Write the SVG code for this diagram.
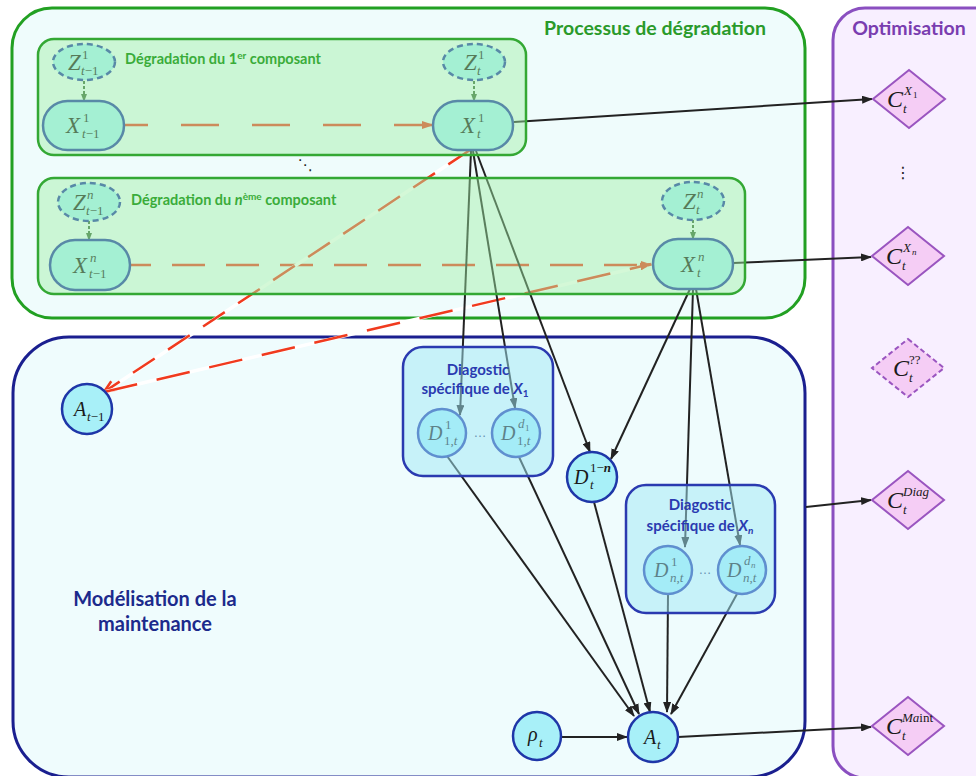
<svg xmlns="http://www.w3.org/2000/svg" width="976" height="776" viewBox="0 0 976 776">
<defs>
<style>
.cg{fill:#effcfc;stroke:#22a022;stroke-width:3}
.cb{fill:#effcfd;stroke:#1a1f8f;stroke-width:3}
.cp{fill:#f8efff;stroke:#8a4fc0;stroke-width:3}
.gbox{fill:#a0f0a6;fill-opacity:.45;stroke:#34a834;stroke-width:2.5}
.dbox{fill:#a0e8f5;fill-opacity:.5;stroke:#2a3ab0;stroke-width:2.5}
.node{fill:#a8f0f8;stroke:#1e36a8;stroke-width:2.5}
.zn{fill:#a8f0f8;stroke:#1e36a8;stroke-width:2.5;stroke-dasharray:6 4}
.dia{fill:#f5cdf5;stroke:#9a55c0;stroke-width:2}
.m{font-family:"Liberation Serif",serif;font-style:italic;fill:#1a1a1a}
.b20{font-size:23px}
.b19{font-size:20px}
.b23{font-size:24px}
.s{font-size:13px}
.ss{font-size:9px}
.up{font-style:normal}
.k{stroke:#222;stroke-width:2;fill:none}
.red{stroke:#f03a1e;stroke-width:2.5;fill:none}
.wh{stroke:#fff;stroke-width:3.5;fill:none}
.zd{stroke:#3a6a3a;stroke-width:2;stroke-dasharray:3 2}
.t{font-family:Lato,"Liberation Sans",sans-serif;font-weight:bold}
.dots{font-family:"DejaVu Sans",sans-serif;fill:#222}
</style>
<marker id="ak" markerUnits="userSpaceOnUse" markerWidth="11" markerHeight="8" refX="10" refY="4" orient="auto"><path d="M0,0 L11,4 L0,8 z" fill="#222"/></marker>
<marker id="az" markerUnits="userSpaceOnUse" markerWidth="8" markerHeight="6" refX="7" refY="3" orient="auto"><path d="M0,0 L8,3 L0,6 z" fill="#3a6a3a"/></marker>
<marker id="ar" markerUnits="userSpaceOnUse" markerWidth="12" markerHeight="8" refX="11" refY="4" orient="auto"><path d="M0,0 L12,4 L0,8 z" fill="#f03a1e"/></marker>
<marker id="aro" markerUnits="userSpaceOnUse" markerWidth="14" markerHeight="12" refX="13" refY="6" orient="auto"><path d="M1,1 L13,6 L1,11" fill="none" stroke="#f03a1e" stroke-width="2.5"/></marker>
</defs>

<g id="containers">
<rect id="processus" class="cg" x="12" y="8" width="793" height="310" rx="40"/>
<rect id="modelisation" class="cb" x="13" y="337" width="792" height="440" rx="56"/>
<rect id="optimisation" class="cp" x="833" y="8" width="200" height="770" rx="32"/>
<text class="t" x="655" y="35" font-size="19.5" fill="#2a9a2a" text-anchor="middle">Processus de dégradation</text>
<text class="t" x="909" y="35" font-size="19.5" fill="#7a3db0" text-anchor="middle">Optimisation</text>
<text class="t" x="155" y="606" font-size="20" fill="#1c2a8c" text-anchor="middle">Modélisation de la</text>
<text class="t" x="155" y="631" font-size="20" fill="#1c2a8c" text-anchor="middle">maintenance</text>
<text class="dots" x="305" y="170" font-size="15" text-anchor="middle">⋱</text>
<text class="dots" x="903" y="178" font-size="16" text-anchor="middle">⋮</text>
</g>

<g id="connectors">
<line class="zd" x1="84" y1="81" x2="84" y2="101" marker-end="url(#az)"/>
<line class="zd" x1="474" y1="81" x2="474" y2="101" marker-end="url(#az)"/>
<line class="zd" x1="89" y1="221" x2="89" y2="240" marker-end="url(#az)"/>
<line class="zd" x1="693" y1="220" x2="693" y2="239" marker-end="url(#az)"/>
<line class="red" x1="124" y1="125" x2="433" y2="125" stroke-dasharray="38 33" stroke-dashoffset="14" marker-end="url(#ar)"/>
<line class="red" x1="130" y1="265" x2="652" y2="265" stroke-dasharray="33 21" stroke-dashoffset="12" marker-end="url(#ar)"/>
<line class="wh" x1="470" y1="150" x2="106" y2="391"/>
<line class="red" x1="470" y1="150" x2="104" y2="392" stroke-dasharray="26 16" marker-end="url(#aro)"/>
<line class="wh" x1="104" y1="392" x2="648" y2="265"/>
<line class="red" x1="104" y1="392" x2="651" y2="264" stroke-dasharray="34 20" marker-end="url(#ar)"/>
<line class="k" x1="514" y1="122" x2="872" y2="99" marker-end="url(#ak)"/>
<line class="k" x1="733" y1="263" x2="871" y2="257" marker-end="url(#ak)"/>
<line class="k" x1="806" y1="507" x2="871" y2="500" marker-end="url(#ak)"/>
<line class="k" x1="678" y1="737" x2="871" y2="727" marker-end="url(#ak)"/>
<line class="k" x1="561" y1="737" x2="627" y2="737" marker-end="url(#ak)"/>
<line class="k" x1="471" y1="151" x2="460" y2="415" marker-end="url(#ak)"/>
<line class="k" x1="473" y1="151" x2="515" y2="408" marker-end="url(#ak)"/>
<line class="k" x1="476" y1="151" x2="590" y2="452" marker-end="url(#ak)"/>
<line class="k" x1="690" y1="289" x2="611" y2="459" marker-end="url(#ak)"/>
<line class="k" x1="693" y1="289" x2="685" y2="547" marker-end="url(#ak)"/>
<line class="k" x1="696" y1="289" x2="740" y2="545" marker-end="url(#ak)"/>
<line class="k" x1="447" y1="456" x2="634" y2="716" marker-end="url(#ak)"/>
<line class="k" x1="519" y1="457" x2="639" y2="714" marker-end="url(#ak)"/>
<line class="k" x1="594" y1="502" x2="650" y2="712" marker-end="url(#ak)"/>
<line class="k" x1="668" y1="595" x2="667" y2="712" marker-end="url(#ak)"/>
<line class="k" x1="737" y1="594" x2="671" y2="714" marker-end="url(#ak)"/>
</g>

<g id="Z1tm1"><ellipse class="zn" cx="84" cy="62" rx="31" ry="18"/>
<text class="m b20" x="68" y="70">Z</text><text class="m s up" x="82" y="59">1</text><text class="m s" x="81" y="75">t<tspan class="up">−1</tspan></text></g>
<g id="X1tm1"><rect class="node" x="43" y="101" width="81" height="49" rx="24.5"/>
<text class="m b20" x="66" y="133">X</text><text class="m s up" x="83" y="122">1</text><text class="m s" x="82" y="138">t<tspan class="up">−1</tspan></text></g>
<g id="Z1t"><ellipse class="zn" cx="474" cy="62" rx="31" ry="18"/>
<text class="m b20" x="464" y="70">Z</text><text class="m s up" x="478" y="59">1</text><text class="m s" x="477" y="75">t</text></g>
<g id="X1t"><rect class="node" x="433" y="101" width="80" height="49" rx="24.5"/>
<text class="m b20" x="461" y="133">X</text><text class="m s up" x="478" y="122">1</text><text class="m s" x="477" y="138">t</text></g>
<g id="Zntm1"><ellipse class="zn" cx="89" cy="202" rx="31" ry="19"/>
<text class="m b20" x="73" y="210">Z</text><text class="m s" x="87" y="199">n</text><text class="m s" x="86" y="215">t<tspan class="up">−1</tspan></text></g>
<g id="Xntm1"><rect class="node" x="50" y="240" width="80" height="50" rx="25"/>
<text class="m b20" x="73" y="273">X</text><text class="m s" x="90" y="262">n</text><text class="m s" x="89" y="278">t<tspan class="up">−1</tspan></text></g>
<g id="Znt"><ellipse class="zn" cx="693" cy="201" rx="31" ry="19"/>
<text class="m b20" x="683" y="209">Z</text><text class="m s" x="697" y="198">n</text><text class="m s" x="696" y="214">t</text></g>
<g id="Xnt"><rect class="node" x="653" y="239" width="80" height="50" rx="25"/>
<text class="m b20" x="681" y="272">X</text><text class="m s" x="698" y="261">n</text><text class="m s" x="697" y="277">t</text></g>

<g id="Atm1"><circle class="node" cx="87" cy="409" r="25"/>
<text class="m b19" x="74" y="416">A</text><text class="m s" x="87" y="421">t<tspan class="up">−1</tspan></text></g>
<g id="D11t"><circle class="node" cx="442" cy="433" r="24"/>
<text class="m b19" x="428" y="440">D</text><text class="m s up" x="445" y="429">1</text><text class="m s" x="444" y="445"><tspan class="up">1,</tspan>t</text></g>
<g id="Dd11t"><circle class="node" cx="516" cy="433" r="24"/>
<text class="m b19" x="501" y="440">D</text><text class="m s" x="518" y="428">d</text><text class="m ss up" x="525" y="431">1</text><text class="m s" x="517" y="445"><tspan class="up">1,</tspan>t</text></g>
<text x="480" y="437" font-family="Liberation Sans,sans-serif" font-size="13" fill="#2a3a6a" text-anchor="middle">…</text>
<g id="D1nt"><circle class="node" cx="592" cy="477" r="25"/>
<text class="m b19" x="574" y="484">D</text><text class="m s" x="590" y="472"><tspan class="up">1−</tspan><tspan font-weight="bold">n</tspan></text><text class="m s" x="590" y="489">t</text></g>
<g id="D1nt2"><circle class="node" cx="668" cy="570" r="24"/>
<text class="m b19" x="654" y="577">D</text><text class="m s up" x="671" y="566">1</text><text class="m s" x="670" y="582">n<tspan class="up">,</tspan>t</text></g>
<g id="Ddnnt"><circle class="node" cx="742" cy="570" r="24"/>
<text class="m b19" x="727" y="577">D</text><text class="m s" x="744" y="565">d</text><text class="m ss" x="751" y="568">n</text><text class="m s" x="743" y="582">n<tspan class="up">,</tspan>t</text></g>
<text x="705" y="574" font-family="Liberation Sans,sans-serif" font-size="13" fill="#2a3a6a" text-anchor="middle">…</text>
<g id="rhot"><circle class="node" cx="537" cy="736" r="24"/>
<text class="m b19" x="528" y="741">ρ</text><text class="m s" x="539" y="747">t</text></g>
<g id="At"><circle class="node" cx="653" cy="737" r="25"/>
<text class="m b19" x="644" y="744">A</text><text class="m s" x="657" y="749">t</text></g>

<g id="CX1"><polygon class="dia" points="909,70 945,99 909,128 873,99"/>
<text class="m b23" x="887" y="107">C</text><text class="m s" x="904" y="95">X</text><text class="m ss up" x="913" y="98">1</text><text class="m s" x="903" y="113">t</text></g>
<g id="CXn"><polygon class="dia" points="908,227 944,256 908,285 872,256"/>
<text class="m b23" x="886" y="264">C</text><text class="m s" x="903" y="252">X</text><text class="m ss" x="912" y="255">n</text><text class="m s" x="902" y="270">t</text></g>
<g id="Cqq"><polygon class="dia" points="908,339 944,368 908,397 872,368" stroke-dasharray="5 3"/>
<text class="m b23" x="893" y="376">C</text><text class="m s up" x="909" y="364">??</text><text class="m s" x="909" y="382">t</text></g>
<g id="CDiag"><polygon class="dia" points="908,471 944,500 908,529 872,500"/>
<text class="m b23" x="887" y="508">C</text><text class="m s" x="903" y="496">Diag</text><text class="m s" x="903" y="514">t</text></g>
<g id="CMaint"><polygon class="dia" points="908,697 944,726 908,755 872,726"/>
<text class="m b23" x="886" y="734">C</text><text class="m s" x="902" y="722">Ma<tspan class="up">int</tspan></text><text class="m s" x="902" y="740">t</text></g>

<g id="box1"><rect class="gbox" x="38" y="39" width="488" height="116" rx="16"/>
<text class="t" x="125" y="64" font-size="14.5" fill="#3aac3a">Dégradation du 1<tspan font-size="10" dy="-5">er</tspan><tspan dy="5"> composant</tspan></text></g>
<g id="box2"><rect class="gbox" x="38" y="178" width="707" height="116" rx="16"/>
<text class="t" x="131" y="205" font-size="14.5" fill="#3aac3a">Dégradation du <tspan font-style="italic">n</tspan><tspan font-size="10" dy="-5">ème</tspan><tspan dy="5"> composant</tspan></text></g>
<g id="diag1"><rect class="dbox" x="403" y="347" width="150" height="129" rx="20"/>
<text class="t" x="478" y="375" font-size="15" fill="#2a3ab0" text-anchor="middle">Diagostic</text>
<text class="t" x="475" y="394" font-size="15" fill="#2a3ab0" text-anchor="middle">spécifique de <tspan font-style="italic">X</tspan><tspan font-size="10" dy="3">1</tspan></text></g>
<g id="diag2"><rect class="dbox" x="626" y="485" width="149" height="128" rx="20"/>
<text class="t" x="700" y="510" font-size="15" fill="#2a3ab0" text-anchor="middle">Diagostic</text>
<text class="t" x="700" y="531" font-size="15" fill="#2a3ab0" text-anchor="middle">spécifique de <tspan font-style="italic">X</tspan><tspan font-size="10" dy="3" font-style="italic">n</tspan></text></g>
</svg>
